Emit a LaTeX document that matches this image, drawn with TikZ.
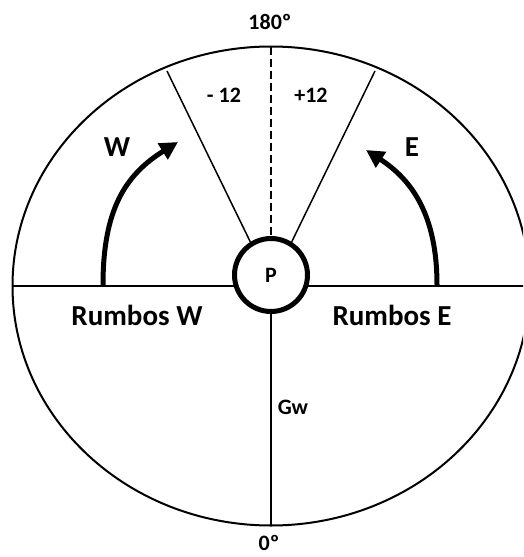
\documentclass[tikz,border=0pt]{standalone}
\usepackage{fontspec}
\setmainfont{Carlito}[BoldFont={Carlito Bold}]
\usepackage{tikz}
\usetikzlibrary{positioning, arrows.meta, calc}
\usepackage{xcolor}
\definecolor{Ink}{HTML}{000000}

\begin{document}
\begin{tikzpicture}[
    x=1pt, y=-1pt,
    every node/.style={Ink, inner sep=0pt},
    small/.style={font=\fontsize{22}{24}\selectfont\bfseries},
    big/.style={font=\fontsize{29}{32}\selectfont\bfseries},
    rim/.style={line width=2pt, Ink},
    ray/.style={line width=1.5pt, Ink},
    pole/.style={draw, circle, line width=5pt, minimum size=73pt, fill=white},
    turn/.style={line width=5pt, Ink, -{Triangle[length=18pt, width=18pt]}}
]
\clip (0,0) rectangle (523,557);

% === Outer ellipse ===
\draw[rim] (271,286) ellipse [x radius=258.5, y radius=239.5];

% Axis ends on the rim
\coordinate (top) at (271,47);
\coordinate (bottom) at (271,526);
\coordinate (west) at (12.5,286);
\coordinate (east) at (530,286);
\coordinate (mid) at (271,286);
\coordinate (lefttop) at (167,71);
\coordinate (righttop) at (375,71);

% Horizontal axis, hidden behind the pole
\draw[ray] (west) -- (mid) -- (east);

% === Pole P ===
\node[pole] (P) at (271,275) {};
\node[small] at (P.center) {P};

\draw[ray, dash pattern=on 8pt off 4pt] (top) -- (P.north);
\draw[ray] (P.south) -- (bottom);
\draw[ray] (P.122) -- (lefttop);
\draw[ray] (P.58) -- (righttop);

% === Turning arrows ===
\coordinate (wbase) at (103,285);
\coordinate (wtip) at (178,142);
\coordinate (ebase) at (437,285);
\coordinate (etip) at (366,150);
\draw[turn] (wbase) .. controls (103,210) and (125,175) .. (wtip);
\draw[turn] (ebase) .. controls (437,215) and (412,180) .. (etip);

% === Labels ===
\node[small] (deg180) at (270,22) {180º};
\node[small] (deg0) at (269,543) {0º};
\node[small] (minus) at (224,95) {- 12};
\node[small] (plus) at (311,95) {+12};
\node[big] (Wlab) at (117,147) {W};
\node[big] (Elab) at (412,147) {E};
\node[big] (RW) at (137,315) {Rumbos W};
\node[big] (RE) at (392,315) {Rumbos E};
\node[small] (Gw) at (293,407) {Gw};

\end{tikzpicture}
\end{document}
